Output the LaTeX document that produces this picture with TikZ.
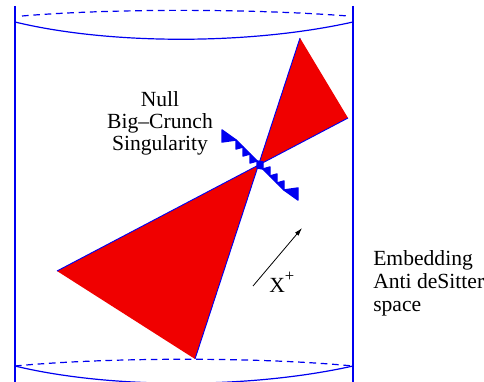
\documentclass[tikz,border=0pt]{standalone}
\usepackage{fontspec}
\setmainfont{Liberation Serif}
\usepackage{xcolor}
\usepackage{tikz}
\usetikzlibrary{arrows.meta, positioning, calc}
\definecolor{azul}{HTML}{0000F0}
\definecolor{vermelho}{HTML}{F00000}

\begin{document}
\begin{tikzpicture}[x=0.75pt, y=-0.75pt,
    parede/.style={azul, line width=1pt},
    borda/.style={azul, line width=0.9pt},
    tracejado/.style={azul, line width=0.9pt, dash pattern=on 5pt off 3.5pt},
    cone/.style={fill=vermelho},
    aresta/.style={azul, line width=0.7pt},
    dente/.style={fill=azul, draw=azul, line width=1.1pt, line join=round},
    seta/.style={-{Latex[length=6pt, width=3.5pt]}, line width=0.6pt},
    rotulo/.style={inner sep=0pt, font=\fontsize{16.2}{16.5}\selectfont}
]
    \useasboundingbox (0,0) rectangle (484,381);
    \clip (0,0) rectangle (484,381);

    % paredes do espaco
    \coordinate (esqtopo) at (15,6);
    \coordinate (esqbase) at (15,390);
    \coordinate (dirtopo) at (353,6);
    \coordinate (dirbase) at (353,390);
    \draw[parede] (esqtopo) -- (esqbase);
    \draw[parede] (dirtopo) -- (dirbase);

    % bordas de cima e de baixo
    \draw[tracejado] (22,16) .. controls (110,8.5) and (250,8.5) .. (348,16);
    \draw[borda] (15,22) .. controls (110,45) and (250,45) .. (353,22);
    \draw[tracejado] (15,366) .. controls (110,357) and (260,357) .. (353,366);
    \draw[borda] (15,366) .. controls (110,389) and (250,389) .. (353,366);

    % cones de luz
    \coordinate (vertice) at (258.4,165.1);
    \coordinate (cimaA) at (300,38);
    \coordinate (cimaB) at (348,118);
    \coordinate (baixoA) at (57,271);
    \coordinate (baixoB) at (195,359);
    \fill[cone] (vertice) -- (cimaA) -- (cimaB) -- cycle;
    \fill[cone] (vertice) -- (baixoA) -- (baixoB) -- cycle;
    \draw[aresta] (cimaA) -- (baixoB);
    \draw[aresta] (cimaB) -- (baixoA);

    % singularidade (zigue-zague)
    \begin{scope}[shift={(260,165)}]
        \foreach \r in {0,180} {
            \begin{scope}[rotate=\r]
                \filldraw[dente] (-38,-35) -- (-38,-23) -- (-24,-25) -- cycle;
                \filldraw[dente] (-24,-25) -- (-24,-16) -- (-17,-18) -- cycle;
                \filldraw[dente] (-17,-18) -- (-17,-9) -- (-10,-11) -- cycle;
                \filldraw[dente] (-10,-11) -- (-10,-2) -- (-3,-4) -- cycle;
                \filldraw[dente] (-3,-4) -- (-3,3) -- (3,4) -- cycle;
            \end{scope}
        }
    \end{scope}

    % textos
    \node[rotulo, align=center, anchor=north] (nulo) at (160,91) {Null\\Big--Crunch\\Singularity};
    \node[rotulo, align=left, anchor=north west, font=\fontsize{16.2}{17.5}\selectfont] (ads) at (373,250) {Embedding\\Anti deSitter\\space};
    \node[rotulo, anchor=base west] (xmais) at (269,292) {X\raisebox{0.5em}{\fontsize{12.5}{12.5}\selectfont+}};

    % direcao x+
    \coordinate (xini) at (253,286);
    \coordinate (xfim) at (302,228);
    \draw[seta] (xini) -- (xfim);
\end{tikzpicture}
\end{document}
